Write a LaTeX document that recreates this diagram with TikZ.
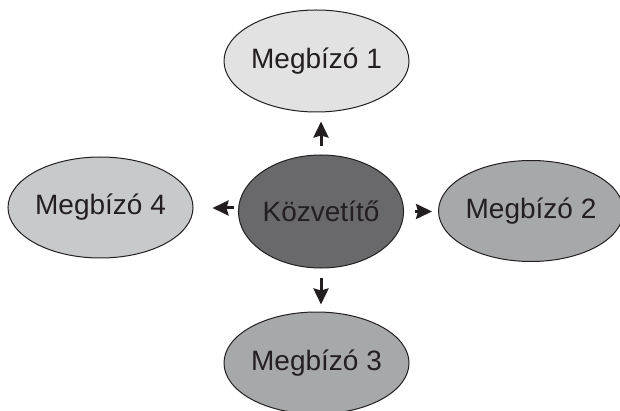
\documentclass[tikz,border=0pt]{standalone}
\usepackage{fontspec}
\setmainfont{Liberation Sans}
\usepackage{tikz}
\usetikzlibrary{arrows.meta,shapes.geometric,calc}
\definecolor{szoveg}{HTML}{231F20}
\definecolor{vilagos}{HTML}{E2E2E3}
\definecolor{kozep}{HTML}{C8C9CB}
\definecolor{sotet}{HTML}{A7A8AA}
\definecolor{kozvetito}{HTML}{69696B}
\tikzstyle{megbizo}=[ellipse, draw=szoveg, line width=1pt, text=szoveg,
  inner sep=0pt, font=\fontsize{28}{32}\selectfont]
\tikzstyle{nyil}=[draw, line width=3pt, color=szoveg,
  -{Stealth[length=16pt,width=15pt,inset=2pt]}]
\newcommand{\megbizo}[4]{node (p#1)[megbizo, fill=#2, minimum width=#3pt, minimum height=#4pt]}

\begin{document}
\begin{tikzpicture}[x=1pt,y=-1pt]
  \useasboundingbox (0,0) rectangle (620,411);

  % Draw diagram elements
  \path (321,211.5) \megbizo{0}{kozvetito}{150}{113}{Közvetítő};
  \path (316.5,61) \megbizo{1}{vilagos}{185}{102}{Megbízó 1};
  \path (531,211) \megbizo{2}{sotet}{178}{101}{Megbízó 2};
  \path (316.5,363) \megbizo{3}{sotet}{185}{102}{Megbízó 3};
  \path (100.5,207.5) \megbizo{4}{kozep}{185}{101}{Megbízó 4};

  % Draw arrows between elements
  \path [nyil, shorten <=8pt, shorten >=9pt] (p0.north) -- (p0.north |- p1.south);
  \path [nyil, shorten <=11pt, shorten >=6pt] (p0.east) -- (p0.east -| p2.west);
  \path [nyil, shorten <=9pt, shorten >=7pt] (p0.south) -- (p0.south |- p3.north);
  \path [nyil, shorten <=4pt, shorten >=19pt] ($(p0.west)+(0,-3.5)$) -- ($(p0.west -| p4.east)+(0,-3.5)$);

\end{tikzpicture}
\end{document}
